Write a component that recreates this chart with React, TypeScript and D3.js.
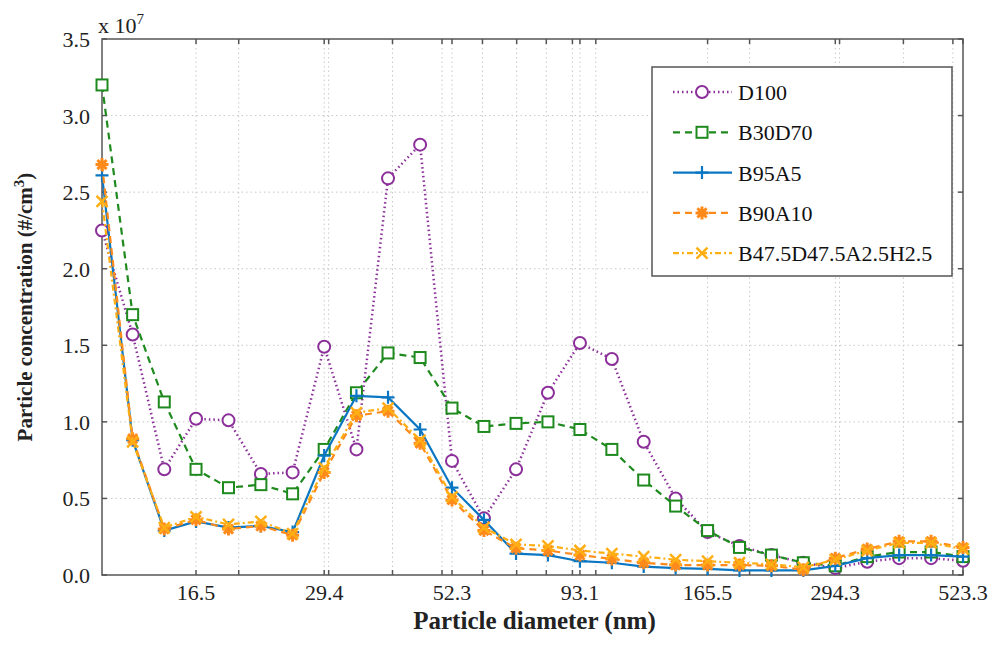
import React, { useEffect, useRef } from 'react';
import * as d3 from 'd3';

// particle diameter bins (nm), 16 per decade
const diameters = [10.8, 12.4, 14.3, 16.5, 19.1, 22.1, 25.5, 29.4, 34.0, 39.2, 45.3, 52.3, 60.4, 69.8,
  80.6, 93.1, 107.5, 124.1, 143.3, 165.5, 191.1, 220.7, 254.8, 294.3, 339.8, 392.4, 453.2, 523.3];
const xTickLabels = [16.5, 29.4, 52.3, 93.1, 165.5, 294.3, 523.3];
const xMinorTicks = [20, 30, 40, 50, 60, 70, 80, 90, 100, 200, 300, 400, 500];
const yTicks = [0, 0.5, 1.0, 1.5, 2.0, 2.5, 3.0, 3.5];

// concentrations in units of 1e7 #/cm3
const d100 = [2.25, 1.57, 0.69, 1.02, 1.01, 0.66, 0.67, 1.49, 0.82, 2.59, 2.81, 0.745, 0.37, 0.69,
  1.19, 1.515, 1.41, 0.87, 0.50, 0.28, 0.19, 0.13, 0.08, 0.045, 0.087, 0.11, 0.11, 0.093];
const b30d70 = [3.20, 1.70, 1.13, 0.69, 0.57, 0.59, 0.53, 0.82, 1.19, 1.45, 1.42, 1.09, 0.97, 0.99,
  1.00, 0.95, 0.82, 0.62, 0.45, 0.29, 0.18, 0.13, 0.08, 0.06, 0.12, 0.15, 0.15, 0.12];
const b95a5 = [2.61, 0.88, 0.29, 0.35, 0.31, 0.32, 0.28, 0.78, 1.17, 1.16, 0.95, 0.57, 0.36, 0.14,
  0.13, 0.09, 0.08, 0.055, 0.045, 0.04, 0.03, 0.03, 0.03, 0.06, 0.11, 0.13, 0.13, 0.12];
const b90a10 = [2.68, 0.89, 0.30, 0.36, 0.30, 0.32, 0.26, 0.67, 1.04, 1.07, 0.86, 0.49, 0.29, 0.175,
  0.16, 0.13, 0.105, 0.08, 0.065, 0.065, 0.065, 0.06, 0.035, 0.11, 0.17, 0.22, 0.22, 0.18];
const b47 = [2.44, 0.87, 0.31, 0.38, 0.33, 0.35, 0.27, 0.70, 1.06, 1.09, 0.88, 0.51, 0.31, 0.20,
  0.19, 0.16, 0.14, 0.12, 0.10, 0.09, 0.08, 0.07, 0.05, 0.10, 0.16, 0.21, 0.21, 0.17];

const seriesNames = ['D100', 'B30D70', 'B95A5', 'B90A10', 'B47.5D47.5A2.5H2.5'];
const seriesValues = [d100, b30d70, b95a5, b90a10, b47];
const seriesColors = ['#8B2F99', '#1E8A1E', '#0B77C2', '#FF8A1C', '#FFAE14'];
const seriesDash = ['1.5,3', '7,5', null, '7,5', '6,3,2,3'];
const seriesMarker = ['circle', 'square', 'plus', 'star', 'x'];

const W = 1002;
const H = 651;
const margin = { top: 39, right: 39, bottom: 76, left: 102 };
const font = '"Liberation Serif", "DejaVu Serif", serif';

const drawMarker = (g: any, type: string, x: number, y: number, color: string) => {
  if (type === 'circle') {
    g.append('circle').attr('cx', x).attr('cy', y).attr('r', 6)
      .attr('fill', 'white').attr('stroke', color).attr('stroke-width', 2);
  } else if (type === 'square') {
    g.append('rect').attr('x', x - 5.5).attr('y', y - 5.5).attr('width', 11).attr('height', 11)
      .attr('fill', 'white').attr('stroke', color).attr('stroke-width', 2);
  } else if (type === 'plus') {
    g.append('path').attr('d', `M${x - 6.5},${y}H${x + 6.5}M${x},${y - 6.5}V${y + 6.5}`)
      .attr('stroke', color).attr('stroke-width', 2.2);
  } else if (type === 'star') {
    const r = 6.5;
    let d = '';
    for (let k = 0; k < 4; k++) {
      const a = (k * Math.PI) / 4;
      d += `M${x - r * Math.cos(a)},${y - r * Math.sin(a)}L${x + r * Math.cos(a)},${y + r * Math.sin(a)}`;
    }
    g.append('path').attr('d', d).attr('stroke', color).attr('stroke-width', 3);
    g.append('circle').attr('cx', x).attr('cy', y).attr('r', 3.8).attr('fill', color);
  } else {
    const r = 5.5;
    g.append('path').attr('d', `M${x - r},${y - r}L${x + r},${y + r}M${x - r},${y + r}L${x + r},${y - r}`)
      .attr('stroke', color).attr('stroke-width', 2.5);
  }
};

const App = () => {
  const ref = useRef<SVGSVGElement>(null);

  useEffect(() => {
    const svg = d3.select(ref.current);
    svg.selectAll('*').remove();

    const x = d3.scaleLog().domain([diameters[0], diameters[diameters.length - 1]])
      .range([margin.left, W - margin.right]);
    const y = d3.scaleLinear().domain([0, 3.5]).range([H - margin.bottom, margin.top]);
    const x0 = margin.left, x1 = W - margin.right, y0 = H - margin.bottom, y1 = margin.top;

    // grid
    const grid = svg.append('g').attr('stroke', '#c8c8c8').attr('stroke-width', 1)
      .attr('stroke-dasharray', '1.5,3');
    [...xTickLabels, ...xMinorTicks].forEach(t => {
      if (x(t) < x1 - 1) grid.append('line').attr('x1', x(t)).attr('x2', x(t)).attr('y1', y1).attr('y2', y0);
    });
    yTicks.forEach(t => {
      if (t > 0 && t < 3.5) grid.append('line').attr('x1', x0).attr('x2', x1).attr('y1', y(t)).attr('y2', y(t));
    });

    // axis box and ticks
    const ax = svg.append('g').attr('stroke', '#555').attr('stroke-width', 1.5);
    ax.append('rect').attr('x', x0).attr('y', y1).attr('width', x1 - x0).attr('height', y0 - y1)
      .attr('fill', 'none');
    [...xTickLabels, ...xMinorTicks].forEach(t => {
      ax.append('line').attr('x1', x(t)).attr('x2', x(t)).attr('y1', y0).attr('y2', y0 - 5);
      ax.append('line').attr('x1', x(t)).attr('x2', x(t)).attr('y1', y1).attr('y2', y1 + 5);
    });
    yTicks.forEach(t => {
      ax.append('line').attr('x1', x0).attr('x2', x0 + 5).attr('y1', y(t)).attr('y2', y(t));
      ax.append('line').attr('x1', x1).attr('x2', x1 - 5).attr('y1', y(t)).attr('y2', y(t));
    });

    // tick labels
    const labels = svg.append('g').attr('font-family', font).attr('font-size', 22).attr('fill', '#222');
    xTickLabels.forEach(t => {
      labels.append('text').attr('x', x(t)).attr('y', y0 + 25).attr('text-anchor', 'middle').text(t.toFixed(1));
    });
    yTicks.forEach(t => {
      labels.append('text').attr('x', x0 - 12).attr('y', y(t) + 8).attr('text-anchor', 'end').text(t.toFixed(1));
    });
    const exp = labels.append('text').attr('x', x0 - 4).attr('y', y1 - 6);
    exp.append('tspan').text('x 10');
    exp.append('tspan').attr('dy', -9).attr('font-size', 15).text('7');

    // axis titles
    svg.append('text').attr('x', (x0 + x1) / 2 + 2).attr('y', H - 22).attr('text-anchor', 'middle')
      .attr('font-family', font).attr('font-size', 25).attr('font-weight', 'bold').attr('fill', '#222')
      .text('Particle diameter (nm)');
    const yl = svg.append('text').attr('transform', `translate(32,${(y0 + y1) / 2}) rotate(-90)`)
      .attr('text-anchor', 'middle').attr('font-family', font).attr('font-size', 21)
      .attr('font-weight', 'bold').attr('fill', '#222');
    yl.append('tspan').text('Particle concentration (#/cm');
    yl.append('tspan').attr('dy', -8).attr('font-size', 15).text('3');
    yl.append('tspan').attr('dy', 8).text(')');

    // series
    const line = d3.line<number>().x((d, i) => x(diameters[i])).y(d => y(d));
    seriesValues.forEach((vals, s) => {
      const g = svg.append('g');
      const p = g.append('path').datum(vals).attr('d', line).attr('fill', 'none')
        .attr('stroke', seriesColors[s]).attr('stroke-width', s === 0 ? 2.5 : 2.2);
      if (seriesDash[s]) p.attr('stroke-dasharray', seriesDash[s]);
      vals.forEach((v, i) => drawMarker(g, seriesMarker[s], x(diameters[i]), y(v), seriesColors[s]));
    });

    // legend
    const lg = svg.append('g');
    lg.append('rect').attr('x', 652).attr('y', 67).attr('width', 300).attr('height', 209)
      .attr('fill', 'white').attr('stroke', '#555').attr('stroke-width', 1.5);
    seriesNames.forEach((name, s) => {
      const ly = 92 + s * 40.3;
      const l = lg.append('line').attr('x1', 673).attr('x2', 732).attr('y1', ly).attr('y2', ly)
        .attr('stroke', seriesColors[s]).attr('stroke-width', s === 0 ? 2.5 : 2.2);
      if (seriesDash[s]) l.attr('stroke-dasharray', seriesDash[s]);
      drawMarker(lg, seriesMarker[s], 702, ly, seriesColors[s]);
      lg.append('text').attr('x', 738).attr('y', ly + 8).attr('font-family', font).attr('font-size', 22)
        .attr('fill', '#111').text(name);
    });
  }, []);

  return (
    <svg ref={ref} width={W} height={H}
      style={{ position: 'absolute', left: 0, top: 0, background: 'white' }} />
  );
};

export default App;
